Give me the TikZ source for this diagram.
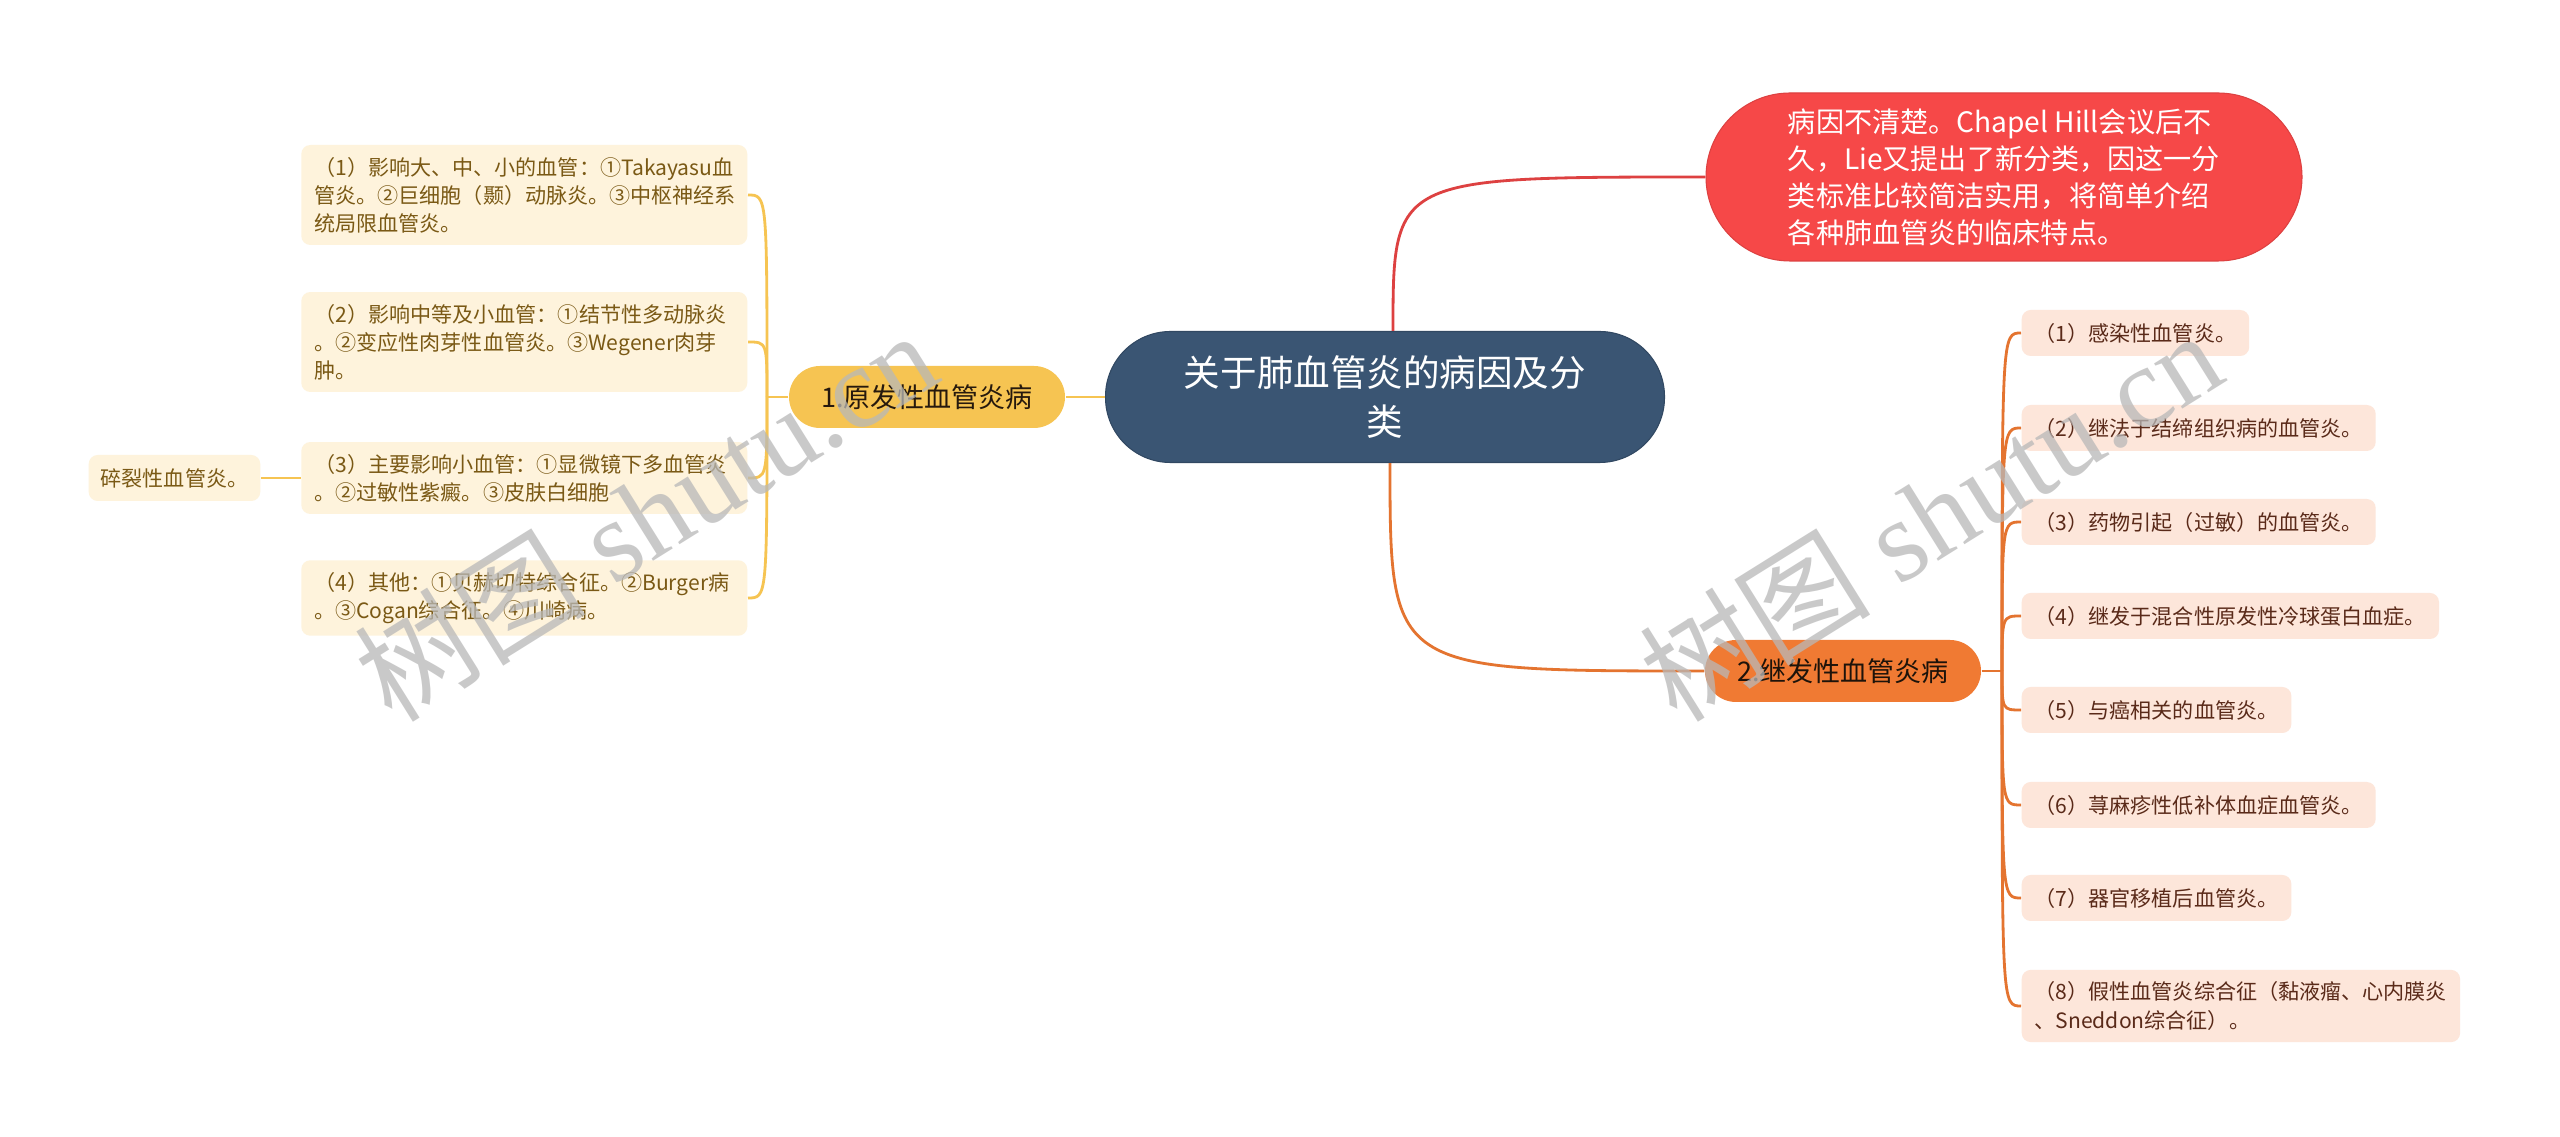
\documentclass[tikz,border=0pt]{standalone}
\usepackage{fontspec}
\setmainfont{Noto Sans CJK SC}
\newfontfamily\markserif{Liberation Serif}
\usepackage{xcolor}
\usetikzlibrary{positioning}

\definecolor{rootblue}{HTML}{3A5573}
\definecolor{causered}{HTML}{F64848}
\definecolor{primyellow}{HTML}{F6C452}
\definecolor{secorange}{HTML}{F07A33}
\definecolor{creamleaf}{HTML}{FEF3DC}
\definecolor{peachleaf}{HTML}{FDE6DA}
\definecolor{creamtext}{HTML}{7A5915}
\definecolor{peachtext}{HTML}{5A2A19}

\begin{document}
\begin{tikzpicture}[x=0.1mm, y=-0.1mm,
    rootbox/.style={draw=rootblue!85!black, line width=0.3pt, fill=rootblue, text=white, rounded corners=6.5mm, minimum width=55.9mm, minimum height=13.1mm, align=center, inner sep=0pt, font=\fontsize{10.4pt}{14pt}\selectfont},
    causebox/.style={draw=causered!90!black, line width=0.3pt, fill=causered, text=white, rounded corners=8.4mm, minimum width=59.6mm, minimum height=16.8mm, align=left, inner sep=0pt, font=\fontsize{8pt}{10.5pt}\selectfont},
    groupbox/.style={rounded corners=3.1mm, minimum width=27.6mm, minimum height=6.2mm, inner sep=0pt, font=\fontsize{7.7pt}{9pt}\selectfont},
    leftleaf/.style={fill=creamleaf, text=creamtext, rounded corners=0.9mm, text width=42mm, align=left, inner xsep=1.3mm, inner ysep=1.2mm, minimum height=4.6mm, anchor=east, font=\fontsize{6pt}{8pt}\selectfont},
    rightleaf/.style={fill=peachleaf, text=peachtext, rounded corners=0.9mm, align=left, inner xsep=1.3mm, inner ysep=1.2mm, minimum height=4.6mm, anchor=west, font=\fontsize{6pt}{8pt}\selectfont},
    yline/.style={draw=primyellow, line width=0.8pt},
    oline/.style={draw=secorange!95!black, line width=0.8pt},
    rline/.style={draw=causered!90!black, line width=0.8pt},
    watermark/.style={text=black!28, text opacity=0.75, rotate=32, font=\markserif\fontsize{33pt}{33pt}\selectfont}
  ]
    \fill [white] (0,0) rectangle (2560,1137);
    \useasboundingbox (0,0) rectangle (2560,1137);

    \node [rootbox] (root) at (1385,397) {关于肺血管炎的病因及分\\类};
    \node [causebox] (cause) at (2004,177) {病因不清楚。Chapel Hill会议后不\\久，Lie又提出了新分类，因这一分\\类标准比较简洁实用，将简单介绍\\各种肺血管炎的临床特点。};
    \node [groupbox, fill=primyellow, text=black!80!brown] (primary) at (927,397) {1.原发性血管炎病};
    \node [groupbox, fill=secorange, text=black!85!brown] (secondary) at (1843,671) {2.继发性血管炎病};

    % primary group
    \node [leftleaf] (p1) at (748,195) {（1）影响大、中、小的血管：①Takayasu血\\管炎。②巨细胞（颞）动脉炎。③中枢神经系\\统局限血管炎。};
    \node [leftleaf] (p2) at (748,342) {（2）影响中等及小血管：①结节性多动脉炎\\。②变应性肉芽性血管炎。③Wegener肉芽\\肿。};
    \node [leftleaf] (p3) at (748,478) {（3）主要影响小血管：①显微镜下多血管炎\\。②过敏性紫癜。③皮肤白细胞};
    \node [leftleaf] (p4) at (748,598) {（4）其他：①贝赫切特综合征。②Burger病\\。③Cogan综合征。④川崎病。};
    \node [leftleaf, text width=, inner xsep=1.2mm] (p3a) at (261,478) {碎裂性血管炎。};

    % secondary group
    \node [rightleaf] (s1) at (2021,333) {（1）感染性血管炎。};
    \node [rightleaf] (s2) at (2021,428) {（2）继法于结缔组织病的血管炎。};
    \node [rightleaf] (s3) at (2021,522) {（3）药物引起（过敏）的血管炎。};
    \node [rightleaf] (s4) at (2021,616) {（4）继发于混合性原发性冷球蛋白血症。};
    \node [rightleaf] (s5) at (2021,710) {（5）与癌相关的血管炎。};
    \node [rightleaf] (s6) at (2021,805) {（6）荨麻疹性低补体血症血管炎。};
    \node [rightleaf] (s7) at (2021,898) {（7）器官移植后血管炎。};
    \node [rightleaf] (s8) at (2021,1006) {（8）假性血管炎综合征（黏液瘤、心内膜炎\\、Sneddon综合征）。};

    \coordinate (rtop) at ([xshift=0.8mm]root.north);
    \coordinate (rbot) at ([xshift=0.5mm]root.south);
    \coordinate (pj) at (767,397);
    \coordinate (sj) at (2002,671);

    \draw [rline] (rtop) .. controls (rtop |- cause.west) .. (cause.west);
    \draw [oline] (rbot) .. controls (rbot |- secondary.west) .. (secondary.west);
    \draw [yline] (root.west) -- (primary.east);

    \draw [yline] (primary.west) -- (pj);
    \draw [yline] (pj) .. controls (pj |- p1.east) .. (p1.east);
    \draw [yline] (pj) .. controls (pj |- p2.east) .. (p2.east);
    \draw [yline] (pj) .. controls (pj |- p3.east) .. (p3.east);
    \draw [yline] (pj) .. controls (pj |- p4.east) .. (p4.east);
    \draw [yline] (p3.west) -- (p3a.east);

    \draw [oline] (secondary.east) -- (sj);
    \draw [oline] (sj) .. controls (sj |- s1.west) .. (s1.west);
    \draw [oline] (sj) .. controls (sj |- s2.west) .. (s2.west);
    \draw [oline] (sj) .. controls (sj |- s3.west) .. (s3.west);
    \draw [oline] (sj) .. controls (sj |- s4.west) .. (s4.west);
    \draw [oline] (sj) .. controls (sj |- s5.west) .. (s5.west);
    \draw [oline] (sj) .. controls (sj |- s6.west) .. (s6.west);
    \draw [oline] (sj) .. controls (sj |- s7.west) .. (s7.west);
    \draw [oline] (sj) .. controls (sj |- s8.west) .. (s8.west);

    % watermarks
    \node [watermark] (mark1) at (645,515) {{\rmfamily 树图} shutu.cn};
    \node [watermark] (mark2) at (1930,515) {{\rmfamily 树图} shutu.cn};
\end{tikzpicture}
\end{document}
